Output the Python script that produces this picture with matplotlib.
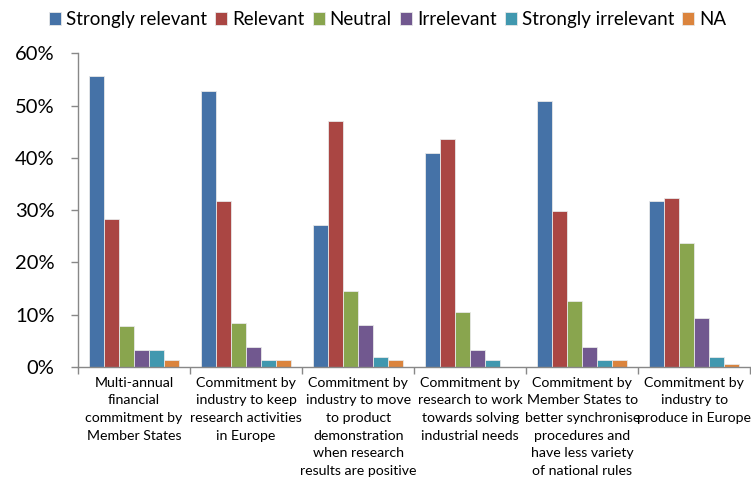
import matplotlib.pyplot as plt
import numpy as np

plt.rcParams['font.family'] = ['Lato', 'DejaVu Sans']

categories = [
    "Multi-annual\nfinancial\ncommitment by\nMember States",
    "Commitment by\nindustry to keep\nresearch activities\nin Europe",
    "Commitment by\nindustry to move\nto product\ndemonstration\nwhen research\nresults are positive",
    "Commitment by\nresearch to work\ntowards solving\nindustrial needs",
    "Commitment by\nMember States to\nbetter synchronise\nprocedures and\nhave less variety\nof national rules",
    "Commitment by\nindustry to\nproduce in Europe",
]

series = ["Strongly relevant", "Relevant", "Neutral", "Irrelevant",
          "Strongly irrelevant", "NA"]

strongly_relevant = [55.6, 52.9, 27.1, 41.0, 50.9, 31.7]
relevant = [28.4, 31.7, 47.0, 43.7, 29.8, 32.4]
neutral = [7.9, 8.5, 14.5, 10.5, 12.6, 23.8]
irrelevant = [3.25, 3.9, 8.0, 3.25, 3.9, 9.3]
strongly_irrelevant = [3.25, 1.3, 1.9, 1.3, 1.3, 1.9]
na = [1.3, 1.3, 1.3, 0.0, 1.3, 0.65]

values = [strongly_relevant, relevant, neutral, irrelevant,
          strongly_irrelevant, na]
colors = ["#4572A7", "#AA4643", "#89A54E", "#71588F", "#4198AF", "#DB843D"]

fig = plt.figure(figsize=(7.51, 4.82), dpi=100)
ax = fig.add_axes([0.104, 0.2386, 0.895, 0.6506])

x = np.arange(len(categories))
w = 0.134
for i, (name, vals, c) in enumerate(zip(series, values, colors)):
    ax.bar(x + (i - 2.5) * w, vals, w, color=c, label=name,
           edgecolor="#e8e8e8", linewidth=0.6)

ax.set_xlim(-0.5, len(categories) - 0.5)
ax.set_ylim(0, 60)
ax.set_yticks(np.arange(0, 61, 10))
ax.set_yticklabels([f"{v}%" for v in range(0, 61, 10)], fontsize=14.5)

ax.set_xticks(x)
ax.set_xticklabels(categories, fontsize=10.2, linespacing=1.56, va="top")
ax.set_xticks(np.arange(-0.5, len(categories), 1), minor=True)
ax.tick_params(axis="x", which="major", length=0, pad=7)
ax.tick_params(axis="x", which="minor", length=5, color="#888888", width=1)
ax.tick_params(axis="y", length=5, color="#888888", width=1, pad=12)

for s in ["top", "right"]:
    ax.spines[s].set_visible(False)
for s in ["left", "bottom"]:
    ax.spines[s].set_color("#888888")
    ax.spines[s].set_linewidth(1)

fig.legend(loc="upper left", bbox_to_anchor=(0.043, 1.012), ncol=6,
           frameon=False, fontsize=13.5, handlelength=0.64, handleheight=0.64,
           handletextpad=0.27, columnspacing=0.43)

plt.savefig("out.png", dpi=100)
plt.close()
